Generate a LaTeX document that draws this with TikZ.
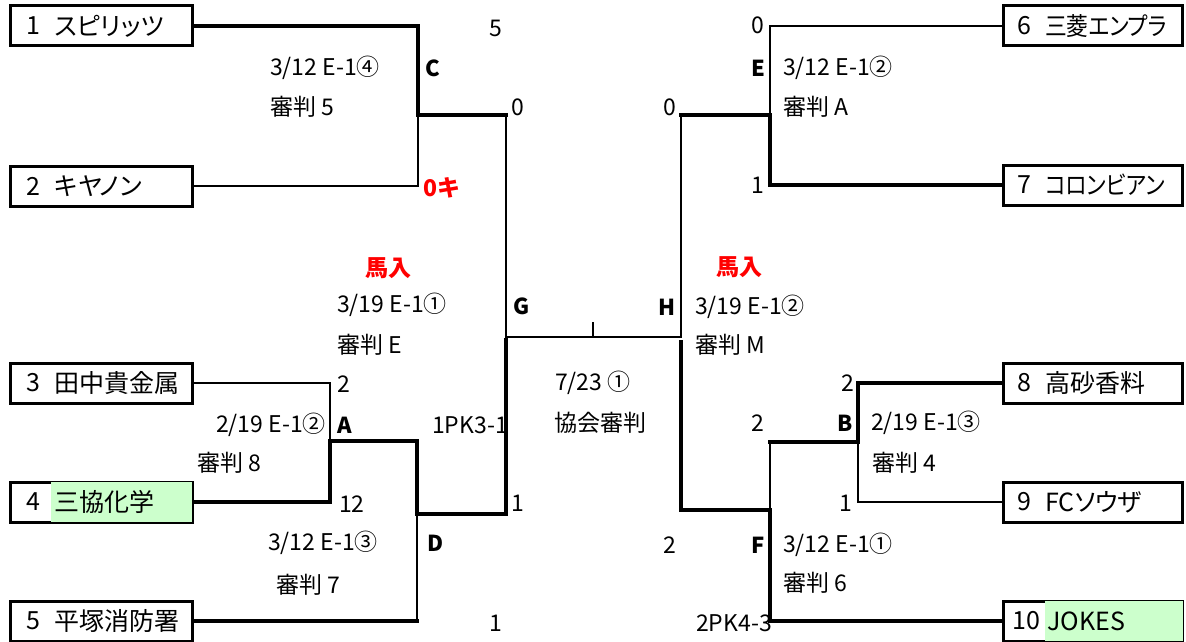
\documentclass[tikz,border=0pt]{standalone}
\usepackage{fontspec}
\setmainfont{Noto Sans CJK JP}
\newfontfamily\teamfont{Noto Sans CJK JP}[RawFeature=+palt]
\usetikzlibrary{calc}
\definecolor{lgreen}{HTML}{CCFFCC}
\definecolor{redtxt}{HTML}{FF0000}
\begin{document}
\begin{tikzpicture}[x=1pt,y=-1pt,
  team/.style={draw, line width=3pt, minimum width=182pt, minimum height=40pt, inner sep=0pt},
  rteam/.style={team, minimum width=179pt},
  nm/.style={anchor=west, inner sep=0pt, font=\teamfont\fontsize{25}{28}\selectfont},
  lbl/.style={inner sep=0pt, font=\fontsize{23}{26}\selectfont},
  bl/.style={inner sep=0pt, font=\fontsize{22}{26}\selectfont\bfseries},
  redlbl/.style={inner sep=0pt, text=redtxt, font=\fontsize{23}{26}\selectfont\bfseries},
  thinline/.style={line width=1.2pt},
  thickline/.style={line width=4pt, line cap=rect, line join=miter}
]
\useasboundingbox (0,0) rectangle (1186,642);

% ---------- team boxes left ----------
\node[team] (t1) at (101,26) {};
\node[team] (t2) at (101,186) {};
\node[team] (t3) at (101,383) {};
\node[team] (t4) at (101,502) {};
\fill[lgreen] ($(t4.north west)+(42,1.5)$) rectangle ($(t4.south east)+(-1.5,-1.5)$);
\node[team] (t5) at (101,621) {};
% ---------- team boxes right ----------
\node[rteam] (t6) at (1093,26) {};
\node[rteam] (t7) at (1093,185) {};
\node[rteam] (t8) at (1093,383) {};
\node[rteam] (t9) at (1093,502) {};
\node[rteam] (t10) at (1093,621) {};
\fill[lgreen] ($(t10.north west)+(43,1.5)$) rectangle ($(t10.south east)+(-1.5,-1.5)$);

\node[nm] (n1) at ($(t1.west)+(18,0)$) {1};
\node[nm] (m1) at ($(t1.west)+(46,0)$) {スピリッツ};
\node[nm] (n2) at ($(t2.west)+(18,0)$) {2};
\node[nm] (m2) at ($(t2.west)+(46,0)$) {キヤノン};
\node[nm] (n3) at ($(t3.west)+(18,0)$) {3};
\node[nm] (m3) at ($(t3.west)+(46,0)$) {田中貴金属};
\node[nm] (n4) at ($(t4.west)+(18,0)$) {4};
\node[nm] (m4) at ($(t4.west)+(46,0)$) {三協化学};
\node[nm] (n5) at ($(t5.west)+(18,0)$) {5};
\node[nm] (m5) at ($(t5.west)+(46,0)$) {平塚消防署};
\node[nm] (n6) at ($(t6.west)+(15,0)$) {6};
\node[nm] (m6) at ($(t6.west)+(43,0)$) {\scalebox{0.87}[1]{三菱エンプラ}};
\node[nm] (n7) at ($(t7.west)+(15,0)$) {7};
\node[nm] (m7) at ($(t7.west)+(43,0)$) {\scalebox{0.87}[1]{コロンビアン}};
\node[nm] (n8) at ($(t8.west)+(15,0)$) {8};
\node[nm] (m8) at ($(t8.west)+(43,0)$) {高砂香料};
\node[nm] (n9) at ($(t9.west)+(15,0)$) {9};
\node[nm] (m9) at ($(t9.west)+(43,0)$) {FCソウザ};
\node[nm] (n10) at ($(t10.west)+(10,0)$) {10};
\node[nm] (m10) at ($(t10.west)+(45,0)$) {JOKES};

% ---------- junction coordinates ----------
\coordinate (c1) at (418,26);
\coordinate (cC) at (418,115);
\coordinate (c2) at (418,186);
\coordinate (gT) at (506,115);
\coordinate (gB) at (506,337);
\coordinate (hT) at (681,115);
\coordinate (hB) at (681,337);
\coordinate (tk) at (593,322);
\coordinate (tkB) at (593,337);
\coordinate (a3) at (330,383);
\coordinate (aJ) at (330,441);
\coordinate (a4) at (330,502);
\coordinate (dT) at (417,441);
\coordinate (dJ) at (417,514);
\coordinate (d5) at (417,621);
\coordinate (gJ) at (506,514);
\coordinate (gS) at (506,340);
\coordinate (e6) at (770,26);
\coordinate (eJ) at (770,115);
\coordinate (e7) at (770,185);
\coordinate (hS) at (681,342);
\coordinate (hJ) at (681,510);
\coordinate (fJ) at (770,510);
\coordinate (fT) at (770,442);
\coordinate (f10) at (770,621);
\coordinate (b8) at (858,383);
\coordinate (bJ) at (858,442);
\coordinate (b9) at (858,502);

% ---------- left bracket ----------
\draw[thickline] (t1.east) -- (c1) -- (cC) -- (gT);
\draw[thinline] (t2.east) -- (c2) -- (cC);
\draw[thinline] (gT) -- (gB) -- (hB) -- (hT);
\draw[thinline] (tk) -- (tkB);
\draw[thinline] (t3.east) -- (a3) -- (aJ);
\draw[thickline] (t4.east) -- (a4) -- (aJ) -- (dT) -- (dJ) -- (gJ) -- (gS);
\draw[thickline] (t5.east) -- (d5);
\draw[thinline] (d5) -- (dJ);
% ---------- right bracket ----------
\draw[thinline] (t6.west) -- (e6) -- (eJ);
\draw[thickline] (t7.west) -- (e7) -- (eJ) -- (hT);
\draw[thickline] (hS) -- (hJ) -- (fJ) -- (f10) -- (t10.west);
\draw[thickline] (t8.west) -- (b8) -- (bJ) -- (fT);
\draw[thinline] (fT) -- (fJ);
\draw[thinline] (bJ) -- (b9) -- (t9.west);

% ---------- labels left ----------
\node[lbl, anchor=west] (mC) at (270,68) {3/12 E-1④};
\node[lbl, anchor=west] (rC) at (270,107) {審判 5};
\node[bl, anchor=west] (lC) at (425,68) {C};
\node[lbl] (s1) at (496,28) {5};
\node[lbl] (sC) at (518,107) {0};
\node[redlbl, anchor=west] (s2) at (423,188) {0キ};
\node[redlbl] (vG) at (388,268) {馬入};
\node[lbl, anchor=west] (mG) at (337,305) {3/19 E-1①};
\node[lbl, anchor=west] (rG) at (337,345) {審判 E};
\node[bl, anchor=west] (lG) at (513,306) {G};
\node[lbl, anchor=west] (s3) at (337,384) {2};
\node[lbl, anchor=east] (mA) at (326,425) {2/19 E-1②};
\node[bl, anchor=west] (lA) at (337,425) {A};
\node[lbl, anchor=east] (sD) at (508,425) {1PK3-1};
\node[lbl, anchor=west] (rA) at (197,463) {審判 8};
\node[lbl, anchor=west] (s4) at (339,504) {12};
\node[lbl] (sG) at (518,503) {1};
\node[lbl, anchor=west] (mD) at (268,543) {3/12 E-1③};
\node[bl, anchor=west] (lD) at (427,543) {D};
\node[lbl, anchor=west] (rD) at (276,585) {審判 7};
\node[lbl] (s5) at (496,623) {1};
% ---------- final ----------
\node[lbl, anchor=west] (mF) at (555,383) {7/23 ①};
\node[lbl, anchor=west] (rF) at (554,423) {協会審判};
% ---------- labels right ----------
\node[lbl] (s6) at (758,25) {0};
\node[bl] (lE) at (758,68) {E};
\node[lbl, anchor=west] (mE) at (783,68) {3/12 E-1②};
\node[lbl, anchor=west] (rE) at (783,107) {審判 A};
\node[lbl] (sE) at (670,107) {0};
\node[lbl] (s7) at (758,185) {1};
\node[redlbl] (vH) at (739,267) {馬入};
\node[bl] (lH) at (667,307) {H};
\node[lbl, anchor=west] (mH) at (695,307) {3/19 E-1②};
\node[lbl, anchor=west] (rH) at (695,345) {審判 M};
\node[lbl] (s8) at (848,383) {2};
\node[bl] (lB) at (845,423) {B};
\node[lbl, anchor=west] (mB) at (871,423) {2/19 E-1③};
\node[lbl] (sB) at (758,423) {2};
\node[lbl, anchor=west] (rB) at (872,463) {審判 4};
\node[lbl] (s9) at (846,503) {1};
\node[lbl] (sH) at (670,545) {2};
\node[bl] (lF) at (758,545) {F};
\node[lbl, anchor=west] (mF2) at (783,545) {3/12 E-1①};
\node[lbl, anchor=west] (rF2) at (783,583) {審判 6};
\node[lbl, anchor=east] (s10) at (772,623) {2PK4-3};
\end{tikzpicture}
\end{document}
